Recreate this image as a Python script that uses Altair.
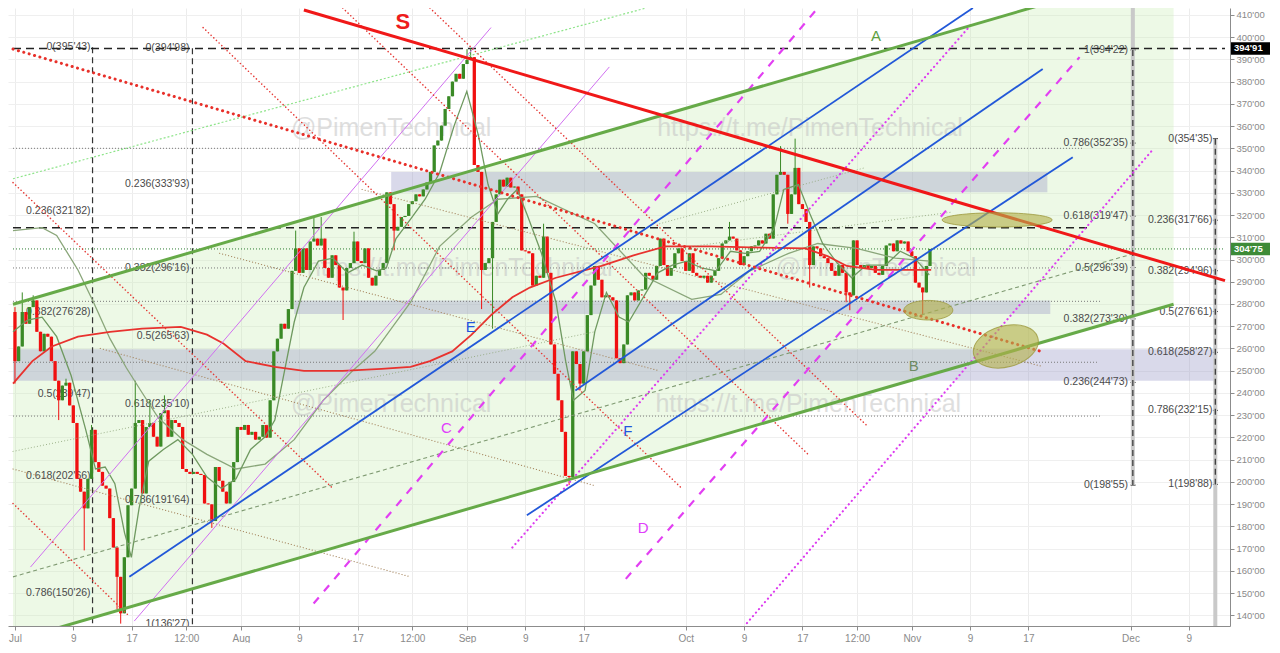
import altair as alt
import pandas as pd

W, H = 1222, 618
DOM_X = [-0.27, 165.96]
DOM_Y = [135.2, 413.1]

# ---------------- axis ticks ----------------
XT_VALUES = [0, 8, 16, 23.5, 31, 39, 47, 54.5, 62, 70, 78, 92, 100, 108, 115.5, 123, 131, 139, 153, 161]
XT_LABELS = ["Jul", "9", "17", "12:00", "Aug", "9", "17", "12:00", "Sep", "9", "17",
             "Oct", "9", "17", "12:00", "Nov", "9", "17", "Dec", "9"]
YT_VALUES = list(range(140, 411, 10))

# ---------------- candles (12h) ----------------
OPEN0 = 276.4
CLOSE = [
    254.3, 260.9, 276.4, 271.1, 278.6, 281.6, 267.5, 258.7, 266.6, 265.3,
    254.3, 245.5, 236.7, 243.3, 244.6, 234.4, 226.5, 201.4, 195.6, 188.1,
    201.4, 223.4, 208.9, 204.5, 198.3, 197.0, 183.7, 170.5, 157.3, 140.9,
    166.1, 189.5, 197.0, 226.5, 227.8, 194.8, 224.7, 226.5, 220.3, 215.9,
    230.9, 232.2, 220.3, 227.8, 226.5, 224.7, 205.8, 204.5, 203.6, 204.5,
    203.6, 203.1, 190.3, 189.9, 182.4, 206.7, 200.5, 195.6, 190.3, 200.0,
    208.9, 224.7, 223.4, 225.6, 221.2, 222.5, 219.0, 220.3, 225.6, 219.9,
    236.7, 258.7, 264.4, 271.1, 268.9, 277.7, 294.9, 305.0, 294.0, 305.0,
    295.3, 308.1, 309.4, 306.3, 309.4, 296.2, 291.8, 301.9, 297.5, 287.4,
    286.1, 296.2, 298.4, 308.1, 299.3, 298.4, 305.0, 291.8, 288.3, 292.7,
    295.3, 298.4, 330.2, 324.9, 313.0, 314.7, 319.1, 319.6, 324.9, 326.2,
    329.3, 328.4, 331.5, 334.6, 339.4, 351.3, 353.5, 360.2, 367.7, 373.4,
    380.0, 383.5, 381.3, 387.9, 389.7, 391.0, 342.5, 339.4, 295.3, 298.4,
    300.6, 316.9, 329.3, 335.9, 332.8, 336.8, 332.4, 332.8, 329.3, 304.1,
    303.7, 302.8, 288.3, 292.7, 291.8, 310.3, 294.0, 261.8, 248.6, 236.7,
    222.5, 202.7, 202.2, 258.7, 253.0, 244.2, 258.7, 275.0, 288.3, 297.1,
    290.9, 283.0, 283.9, 283.0, 281.6, 255.6, 253.4, 261.8, 283.9, 285.2,
    281.6, 286.1, 286.5, 294.0, 292.7, 290.9, 297.1, 309.4, 297.5, 292.7,
    296.2, 302.8, 305.0, 299.3, 294.9, 302.8, 294.0, 292.7, 291.8, 292.7,
    289.6, 292.7, 294.9, 300.6, 307.2, 308.6, 310.3, 309.4, 304.1, 297.5,
    301.5, 303.7, 305.9, 306.3, 308.6, 307.2, 311.6, 309.4, 329.3, 338.1,
    339.4, 338.1, 320.5, 329.3, 341.2, 324.9, 322.7, 316.9, 297.5, 305.9,
    305.0, 301.5, 300.6, 298.4, 294.9, 292.7, 297.5, 294.0, 285.2, 283.9,
    308.6, 297.5, 296.2, 297.5, 296.2, 297.1, 294.0, 293.1, 297.1, 306.3,
    307.2, 303.7, 308.6, 307.2, 308.1, 303.7, 301.5, 289.6, 287.4, 285.2,
    297.1, 304.75,
]
WICK_HI = {0: 278.6, 2: 285.2, 5: 283.9, 14: 246.4, 21: 225.6, 33: 245.5, 37: 236.7,
           41: 238.9, 77: 313.0, 82: 319.1, 84: 319.1, 93: 312.5, 124: 394.6, 125: 394.98,
           145: 316.1, 196: 316.9, 210: 351.0, 214: 354.35}
WICK_LO = {0: 244.2, 12: 227.8, 19: 169.2, 28: 142.7, 29: 136.27, 54: 179.3, 90: 272.8,
           104: 304.1, 128: 277.7, 131: 268.9, 152: 198.55, 155: 241.1, 212: 316.1,
           218: 287.4, 228: 280.8, 229: 277.2, 249: 275.5}

# ---------------- moving averages ----------------
MA_RED_D = [-0.27, 2.39, 5.05, 8.64, 13.03, 17.42, 22.74, 26.33, 28.59, 31.65, 35.64, 39.63,
            44.95, 50.27, 54.26, 56.91, 59.97, 62.63, 65.29, 68.22, 70.61, 74.20, 80.45,
            84.84, 89.23, 95.48, 100.8, 108.38, 111.44, 114.10, 118.09, 125.66]
MA_RED_P = [244.2, 254.3, 260.9, 265.3, 267.5, 268.9, 269.7, 266.2, 262.2, 254.3, 251.7, 249.9,
            249.9, 250.8, 251.7, 254.3, 258.7, 266.2, 275.0, 283.0, 287.4, 291.8, 297.1,
            301.9, 305.9, 305.9, 305.5, 305.0, 301.5, 297.1, 295.3, 295.3]
MA_FAST_D = [-0.27, 1.73, 3.72, 5.72, 7.71, 9.71, 11.04, 12.37, 13.70, 15.03, 15.96, 17.02,
             18.35, 20.35, 22.34, 24.34, 26.33, 28.32, 30.32, 32.31, 34.31, 35.64, 36.97,
             38.30, 39.63, 41.62, 43.62, 45.61, 47.61, 49.60, 50.93, 52.26, 54.26, 56.25,
             58.24, 60.24, 61.97, 63.56, 64.89, 66.22, 67.55, 68.88, 70.21, 72.21, 74.20,
             75.53, 76.60, 78.19, 79.52, 81.12, 82.85, 84.18, 86.17, 88.16, 90.16, 92.15,
             94.15, 96.14, 98.14, 100.13, 102.13, 104.12, 105.45, 107.45, 109.04, 110.77,
             112.77, 114.76, 116.76, 119.41, 121.41, 123.40, 125.40]
MA_FAST_P = [267.5, 272.8, 274.1, 265.3, 247.7, 223.4, 205.8, 206.7, 199.2, 177.1, 166.1, 188.1,
             209.3, 214.6, 219.0, 212.4, 202.2, 197.0, 201.4, 214.6, 220.3, 227.8, 249.9,
             271.9, 287.4, 299.3, 300.6, 294.0, 297.5, 294.9, 296.2, 309.4, 318.2, 327.1,
             339.0, 360.2, 375.6, 355.8, 333.7, 320.5, 327.1, 331.5, 320.5, 302.8, 280.8,
             254.3, 236.7, 241.1, 267.5, 285.2, 274.1, 271.9, 283.0, 294.0, 297.5, 299.3,
             296.2, 294.9, 303.7, 302.8, 303.7, 313.9, 331.5, 333.7, 320.5, 307.2,
             298.4, 291.8, 297.5, 297.5, 303.7, 300.6, 293.1]
MA_SLOW_D = [-0.27, 3.72, 5.72, 8.64, 10.77, 13.03, 15.29, 17.42, 19.68, 23.01, 26.33, 30.32,
             34.31, 38.30, 42.29, 46.28, 49.34, 54.26, 58.24, 62.63, 66.22, 71.54, 79.52,
             86.17, 92.82, 96.81, 100.80, 106.12, 110.11, 115.43, 120.74, 125.40]
MA_SLOW_P = [313.0, 314.3, 310.8, 295.3, 280.8, 264.4, 251.2, 240.2, 228.7, 219.0, 212.4, 205.8,
             208.0, 219.0, 236.7, 249.9, 258.7, 280.8, 305.9, 319.1, 327.1, 328.4, 316.1,
             292.7, 282.1, 284.3, 294.9, 302.8, 307.2, 305.0, 300.6, 299.3]

# ---------------- drawings: segments (day1, price1, day2, price2) ----------------
CHANNEL_D = [-0.27, 158.91]
CHANNEL_LO = [128.5, 279.9]
CHANNEL_HI = [279.9, 431.8]
GREEN_THICK = [(-0.27, 279.9, 158.91, 431.8), (-0.27, 128.5, 158.91, 279.9)]
RED_THICK = [(39.63, 412.2, 165.96, 290.5)]
RED_THICK_DOTTED = [(-0.27, 394.6, 140.69, 258.7)]
BLUE = [(15.69, 157.3, 131.38, 413.1), (76.86, 241.1, 140.96, 385.7), (70.21, 185.0, 145.08, 346.0)]
MAGENTA_DASHED = [(40.96, 145.3, 110.11, 413.1), (83.78, 156.4, 146.01, 391.0)]
MAGENTA_DOTTED = [(68.22, 170.5, 131.38, 406.5), (100.4, 136.5, 155.98, 349.1)]
VIOLET_THIN = [(2.13, 161.7, 65.29, 404.3), (16.36, 137.4, 81.52, 386.6)]
LIGHT_GREEN = [(-0.27, 336.3, 86.57, 413.1)]
GREY_GREEN_DASHED = [(-0.27, 157.3, 153.59, 302.8)]
RED_DOTTED = [(-0.27, 334.6, 43.62, 197.0), (-0.27, 190.3, 15.69, 139.6), (25.80, 404.3, 91.49, 197.0),
              (44.95, 413.1, 108.78, 212.4), (56.91, 413.1, 116.76, 225.6)]
BROWN_DOTTED = [(-0.27, 205.8, 54.26, 157.3), (28.06, 302.8, 88.43, 249.9),
                (11.70, 260.0, 79.52, 198.3), (47.61, 331.5, 140.69, 252.1)]
OLIVE_THIN = [(-0.27, 213.7, 79.52, 267.5), (88.43, 316.1, 116.49, 341.2), (92.82, 305.9, 128.46, 321.3)]
BLACK_DASHED_H = [(-0.27, 394.91, 165.96, 394.91), (-0.27, 314.3, 147.07, 314.3)]
PRICE_LINE = [(-0.27, 304.75, 165.96, 304.75)]
GREY_DOTTED_H = [(-0.27, 350.0, 146.4, 350.0), (-0.27, 296.2, 143.35, 296.2), (-0.27, 281.2, 148.94, 281.2),
                 (-0.27, 253.8, 148.4, 253.8), (-0.27, 229.6, 148.94, 229.6)]
VERT_DASHED = [(10.64, 395.43, 10.64, 130.0), (24.34, 394.98, 24.34, 130.0),
               (153.32, 394.22, 153.32, 198.55), (164.63, 354.35, 164.63, 198.88)]
GREY_BARS = [(153.32, 413.1, 153.32, 198.55), (164.63, 354.35, 164.63, 130.0)]

BANDS_D1 = [51.6, 38.3, -0.27]
BANDS_D2 = [141.6, 142.0, 164.63]
BANDS_P1 = [330.2, 275.5, 245.5]
BANDS_P2 = [339.4, 281.6, 259.6]

# ---------------- fib labels ----------------
FIB1_D, FIB2_D, FIB3_D, FIB4_D = 10.37, 23.94, 152.66, 164.23
FIB1_P = [395.43, 321.82, 276.28, 239.47, 202.66, 150.26]
FIB1_T = ["0(395'43)", "0.236(321'82)", "0.382(276'28)", "0.5(239'47)", "0.618(202'66)", "0.786(150'26)"]
FIB2_P = [394.98, 333.93, 296.16, 265.63, 235.10, 191.64, 136.27]
FIB2_T = ["0(394'98)", "0.236(333'93)", "0.382(296'16)", "0.5(265'63)", "0.618(235'10)", "0.786(191'64)", "1(136'27)"]
FIB3_P = [394.22, 352.35, 319.47, 296.39, 273.30, 244.73, 198.55]
FIB3_T = ["1(394'22)", "0.786(352'35)", "0.618(319'47)", "0.5(296'39)", "0.382(273'30)", "0.236(244'73)", "0(198'55)"]
FIB4_P = [354.35, 317.66, 294.96, 276.61, 258.27, 232.15, 198.88]
FIB4_T = ["0(354'35)", "0.236(317'66)", "0.382(294'96)", "0.5(276'61)", "0.618(258'27)", "0.786(232'15)", "1(198'88)"]

LETTERS = ["S", "A", "B", "C", "D", "E", "F"]
LETTER_D = [53.19, 118.08, 123.27, 59.18, 86.17, 62.5, 84.04]
LETTER_P = [406.6, 400.7, 252.1, 224.3, 179.3, 269.7, 223.0]
LETTER_C = ["#ee1c1c", "#5d9e3f", "#6e8b64", "#e040fb", "#e040fb", "#2255dd", "#2255dd"]

WM_T = ["@PimenTechnical", "https://t.me/PimenTechnical", "https://t.me/PimenTechnical",
        "@PimenTechnical", "@PimenTechnical", "https://t.me/PimenTechnical"]
WM_D = [51.6, 109.04, 61.0, 118.1, 51.6, 108.8]
WM_P = [359.3, 359.3, 296.2, 296.2, 235.0, 235.0]

ELL_D = [134.71, 125.27, 135.90]
ELL_P = [317.8, 277.2, 260.9]

# ---------------- scales / axes ----------------
label_expr = ("[" + ",".join("'%s'" % l for l in XT_LABELS) + "][indexof(["
              + ",".join(str(v) for v in XT_VALUES) + "], datum.value)]")
XS = alt.Scale(domain=DOM_X, nice=False, zero=False)
YS = alt.Scale(domain=DOM_Y, nice=False, zero=False)
XAX = alt.Axis(values=XT_VALUES, labelExpr=label_expr, title=None, grid=True, gridColor="#ececec",
               domainColor="#8c8c8c", tickColor="#8c8c8c", tickSize=4, labelColor="#8a8a8a",
               labelFontSize=10, labelFont="Liberation Sans", labelFlush=True, labelPadding=3)
YAX = alt.Axis(orient="right", values=YT_VALUES, labelExpr="datum.value + \"'00\"", title=None,
               grid=True, gridColor="#efefef", domainColor="#8c8c8c", tickColor="#8c8c8c",
               tickSize=4, labelColor="#8a8a8a", labelFontSize=9.5, labelFont="Liberation Sans",
               labelPadding=2)


def X(f):
    return alt.X(f, type="quantitative", scale=XS, axis=XAX)


def Y(f):
    return alt.Y(f, type="quantitative", scale=YS, axis=YAX)


def seg_layer(segs, color, width, dash=None, opacity=1.0, cap="butt"):
    rows = []
    for k, (d1, p1, d2, p2) in enumerate(segs):
        rows.append({"seg": k, "k": 0, "d": d1, "p": p1})
        rows.append({"seg": k, "k": 1, "d": d2, "p": p2})
    mk = dict(color=color, strokeWidth=width, clip=True, opacity=opacity, strokeCap=cap)
    if dash:
        mk["strokeDash"] = dash
    return alt.Chart(pd.DataFrame(rows)).mark_line(**mk).encode(
        x=X("d"), y=Y("p"), detail="seg:N", order="k:Q")


def line_layer(ds, ps, color, width):
    df = pd.DataFrame({"d": ds, "p": ps, "k": range(len(ds))})
    return alt.Chart(df).mark_line(color=color, strokeWidth=width, clip=True).encode(
        x=X("d"), y=Y("p"), order="k:Q")


def text_layer(ds, ps, ts, align, size, color, font="Liberation Sans", weight="normal",
               opacity=1.0, clip=True):
    df = pd.DataFrame({"d": ds, "p": ps, "t": ts})
    return alt.Chart(df).mark_text(align=align, baseline="middle", fontSize=size, color=color,
                                   font=font, fontWeight=weight, opacity=opacity, clip=clip).encode(
        x=X("d"), y=Y("p"), text="t:N")


# candle table
rows = []
prev = OPEN0
for i, c in enumerate(CLOSE):
    o = prev
    hi = max(o, c, WICK_HI.get(i, -1e9))
    lo = min(o, c, WICK_LO.get(i, 1e9))
    rows.append({"day": i * 0.5, "open": o, "close": c, "high": hi, "low": lo,
                 "dir": "up" if c >= o else "down"})
    prev = c
cdf = pd.DataFrame(rows)
ccol = alt.Color("dir:N", scale=alt.Scale(domain=["up", "down"], range=["#3a8a26", "#f01010"]), legend=None)

layers = []
# channel fill
layers.append(alt.Chart(pd.DataFrame({"d": CHANNEL_D, "lo": CHANNEL_LO, "hi": CHANNEL_HI}))
              .mark_area(color="#c9ecb4", opacity=0.33, clip=True)
              .encode(x=X("d"), y=Y("lo"), y2="hi"))
# bands
layers.append(alt.Chart(pd.DataFrame({"d1": BANDS_D1, "d2": BANDS_D2, "p1": BANDS_P1, "p2": BANDS_P2}))
              .mark_rect(color="#9c9cc8", opacity=0.38, clip=True)
              .encode(x=X("d1"), x2="d2", y=Y("p1"), y2="p2"))
# watermark
layers.append(text_layer(WM_D, WM_P, WM_T, "center", 25, "#c4c4c4", opacity=0.55))
# fib labels
for fd, fp, ft in [(FIB1_D, FIB1_P, FIB1_T), (FIB2_D, FIB2_P, FIB2_T),
                   (FIB3_D, FIB3_P, FIB3_T), (FIB4_D, FIB4_P, FIB4_T)]:
    layers.append(text_layer([fd] * len(fp), fp, ft, "right", 10.5, "#4a4a4a"))
# fib ticks
layers.append(seg_layer([(153.0, p, 153.7, p) for p in FIB3_P] + [(164.3, p, 165.0, p) for p in FIB4_P],
                        "#333333", 1))
# horizontal / vertical guides
layers.append(seg_layer(GREY_BARS, "#c9c9c9", 4))
layers.append(seg_layer(GREY_DOTTED_H, "#7a7a7a", 1, dash=[1, 2]))
layers.append(seg_layer(PRICE_LINE, "#2e7d32", 1, dash=[1, 2]))
layers.append(seg_layer(VERT_DASHED, "#333333", 1.2, dash=[6, 4]))
layers.append(seg_layer(BLACK_DASHED_H, "#222222", 1.6, dash=[8, 5]))
# candles
layers.append(alt.Chart(cdf).mark_rule(strokeWidth=1, clip=True).encode(
    x=X("day"), y=Y("low"), y2="high", color=ccol))
layers.append(alt.Chart(cdf).mark_bar(size=3.3, clip=True).encode(
    x=X("day"), y=Y("open"), y2="close", color=ccol))
# moving averages
layers.append(line_layer(MA_SLOW_D, MA_SLOW_P, "#8aa67a", 1.3))
layers.append(line_layer(MA_FAST_D, MA_FAST_P, "#6f9960", 1.3))
layers.append(line_layer(MA_RED_D, MA_RED_P, "#e8322e", 1.8))
# thin diagonal drawings
layers.append(seg_layer(BROWN_DOTTED, "#a5855e", 1.2, dash=[0.1, 3], cap="round"))
layers.append(seg_layer(OLIVE_THIN, "#93a97f", 1, dash=[0.1, 3], cap="round"))
layers.append(seg_layer(GREY_GREEN_DASHED, "#7f9a72", 1.1, dash=[4, 3]))
layers.append(seg_layer(LIGHT_GREEN, "#8ee48a", 1.2, dash=[2, 2]))
layers.append(seg_layer(VIOLET_THIN, "#d070f0", 1))
layers.append(seg_layer(RED_DOTTED, "#e53935", 1.5, dash=[0.1, 3.6], cap="round"))
layers.append(seg_layer(MAGENTA_DOTTED, "#dd3cf0", 2.2, dash=[0.1, 4.5], cap="round"))
layers.append(seg_layer(MAGENTA_DASHED, "#e23ff2", 2.2, dash=[8, 8]))
layers.append(seg_layer(BLUE, "#2258d8", 1.8))
layers.append(seg_layer(RED_THICK_DOTTED, "#e8302a", 3, dash=[0.1, 5.5], cap="round"))
layers.append(seg_layer(GREEN_THICK, "#66aa48", 3))
layers.append(seg_layer(RED_THICK, "#f01818", 3))
# ellipses
ELL_SHAPES = ["M -1 0 A 1 0.13 0 1 1 1 0 A 1 0.13 0 1 1 -1 0 Z",
              "M -1 0 A 1 0.4 0 1 1 1 0 A 1 0.4 0 1 1 -1 0 Z",
              "M -1 0 A 1 0.62 0 1 1 1 0 A 1 0.62 0 1 1 -1 0 Z"]
ELL_SIZE = [12100, 2400, 4400]
ELL_ANGLE = [0, 0, 345]
for k in range(3):
    layers.append(alt.Chart(pd.DataFrame({"d": [ELL_D[k]], "p": [ELL_P[k]]}))
                  .mark_point(shape=ELL_SHAPES[k], size=ELL_SIZE[k], angle=ELL_ANGLE[k], filled=True,
                              fill="#b3b04a", fillOpacity=0.62, stroke="#9c993c", strokeWidth=1,
                              strokeOpacity=0.8, clip=True)
                  .encode(x=X("d"), y=Y("p")))
# letters
for k in range(len(LETTERS)):
    big = LETTERS[k] == "S"
    layers.append(text_layer([LETTER_D[k]], [LETTER_P[k]], [LETTERS[k]], "center",
                             22 if big else 15, LETTER_C[k], weight="bold" if big else "normal",
                             clip=False))
# price tags on axis
TAG_P = [394.91, 304.75]
TAG_T = ["394'91", "304'75"]
TAG_C = ["#000000", "#3d8b37"]
for k in range(2):
    layers.append(alt.Chart(pd.DataFrame({"p1": [TAG_P[k] - 2.8], "p2": [TAG_P[k] + 2.8]}))
                  .mark_rect(color=TAG_C[k])
                  .encode(x=alt.value(W + 1), x2=alt.value(W + 40), y=Y("p1"), y2="p2"))
    layers.append(alt.Chart(pd.DataFrame({"p": [TAG_P[k]], "t": [TAG_T[k]]}))
                  .mark_text(align="left", baseline="middle", fontSize=9.5, fontWeight="bold",
                             color="white", font="Liberation Sans")
                  .encode(x=alt.value(W + 4), y=Y("p"), text="t:N"))

chart = alt.layer(*layers).properties(
    width=W, height=H, padding={"left": 0, "top": 0, "right": 0, "bottom": 0}, background="white"
).configure_view(strokeWidth=0)

chart.save("out.html", embed_options={"renderer": "svg", "actions": False})
